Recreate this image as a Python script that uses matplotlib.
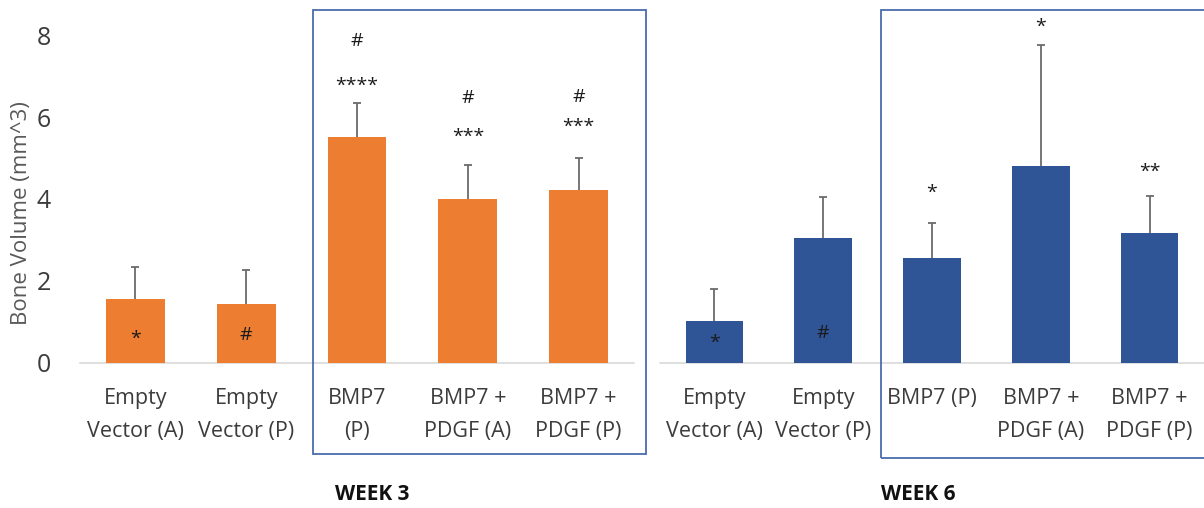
import matplotlib
matplotlib.use("Agg")
import matplotlib.pyplot as plt
from matplotlib.patches import Rectangle

plt.rcParams['font.family'] = ['Open Sans', 'DejaVu Sans']

categories_w3 = ["Empty\nVector (A)", "Empty\nVector (P)", "BMP7\n(P)", "BMP7 +\nPDGF (A)", "BMP7 +\nPDGF (P)"]
categories_w6 = ["Empty\nVector (A)", "Empty\nVector (P)", "BMP7 (P)", "BMP7 +\nPDGF (A)", "BMP7 +\nPDGF (P)"]

week3_mean = [1.56, 1.44, 5.52, 4.00, 4.21]
week3_err = [0.78, 0.83, 0.83, 0.84, 0.80]
week6_mean = [1.02, 3.05, 2.57, 4.81, 3.16]
week6_err = [0.78, 1.00, 0.84, 2.94, 0.92]

# significance marks above the error bars (bottom to top) and inside the bars
week3_above = [[], [], ["****", "#"], ["***", "#"], ["***", "#"]]
week3_inside = ["*", "#", "", "", ""]
week6_above = [[], [], ["*"], ["*"], ["**"]]
week6_inside = ["*", "#", "", "", ""]

yticks = [0, 2, 4, 6, 8]

# label placement (axis units above the whisker / inside the bar)
week3_above_off = [[], [], [0.41, 1.5], [0.68, 1.63], [0.76, 1.49]]
week3_inside_y = [0.6, 0.68, 0, 0, 0]
week6_above_off = [[], [], [0.73], [0.44], [0.59]]
week6_inside_y = [0.49, 0.73, 0, 0, 0]

W, H = 1204, 508
fig = plt.figure(figsize=(W / 100, H / 100), dpi=100)

y0_px, y8_px = 363, 35
TXT = '#3c3c3c'


def make_axes(x0, x1):
    return fig.add_axes([x0 / W, (H - y0_px) / H, (x1 - x0) / W, (y0_px - y8_px) / H])


def draw(ax, cats, means, errs, above, above_off, inside, inside_y, color):
    x = range(len(cats))
    ax.bar(x, means, width=0.53, color=color, zorder=2)
    _, caps, _ = ax.errorbar(x, means, yerr=[[0] * len(means), errs], fmt='none',
                             ecolor='#6b6b6b', elinewidth=1.3, capsize=3,
                             capthick=1.3, zorder=1)
    # only the upper whisker cap is shown
    caps[0].set_visible(False)
    ax.set_xlim(-0.5, len(cats) - 0.5)
    ax.set_ylim(0, 8)
    ax.set_xticks(list(x))
    ax.set_xticklabels(cats, fontsize=15.5, color=TXT, linespacing=1.72)
    ax.tick_params(axis='x', length=0, pad=18)
    for s in ['top', 'right', 'left']:
        ax.spines[s].set_visible(False)
    ax.spines['bottom'].set_color('#d9d9d9')
    ax.spines['bottom'].set_linewidth(1.2)
    ax.spines['bottom'].set_zorder(0)
    for i, (m, e) in enumerate(zip(means, errs)):
        top = m + e
        for t, off in zip(above[i], above_off[i]):
            ax.text(i, top + off, t, ha='center', va='center', fontsize=14,
                    color='#1a1a1a', clip_on=False)
        if inside[i]:
            ax.text(i, inside_y[i], inside[i], ha='center', va='center',
                    fontsize=14, color='#1a1a1a')


ax1 = make_axes(80, 634)
draw(ax1, categories_w3, week3_mean, week3_err, week3_above, week3_above_off,
     week3_inside, week3_inside_y, '#ED7D31')
ax1.set_yticks(yticks)
ax1.set_yticklabels([str(t) for t in yticks], fontsize=18, color=TXT)
ax1.tick_params(axis='y', length=0, pad=21)

ax2 = make_axes(660, 1204)
draw(ax2, categories_w6, week6_mean, week6_err, week6_above, week6_above_off,
     week6_inside, week6_inside_y, '#2F5597')
ax2.set_yticks([])

fig.text(22 / W, 1 - 213 / H, "Bone Volume (mm^3)", rotation=90, ha='center', va='center',
         fontsize=16, color='#595959')

# group frames
for (x0, x1, yt, yb) in [(313, 646, 10, 454), (881, 1210, 10, 458)]:
    fig.patches.append(Rectangle((x0 / W, 1 - yb / H), (x1 - x0) / W, (yb - yt) / H,
                                 transform=fig.transFigure, fill=False,
                                 edgecolor='#4A6BAE', linewidth=1.3, zorder=5))

fig.text(372 / W, 1 - 494 / H, "WEEK 3", ha='center', va='center', fontsize=15,
         fontweight='bold', color='#111111')
fig.text(918 / W, 1 - 494 / H, "WEEK 6", ha='center', va='center', fontsize=15,
         fontweight='bold', color='#111111')

fig.savefig("out.png", dpi=100)
